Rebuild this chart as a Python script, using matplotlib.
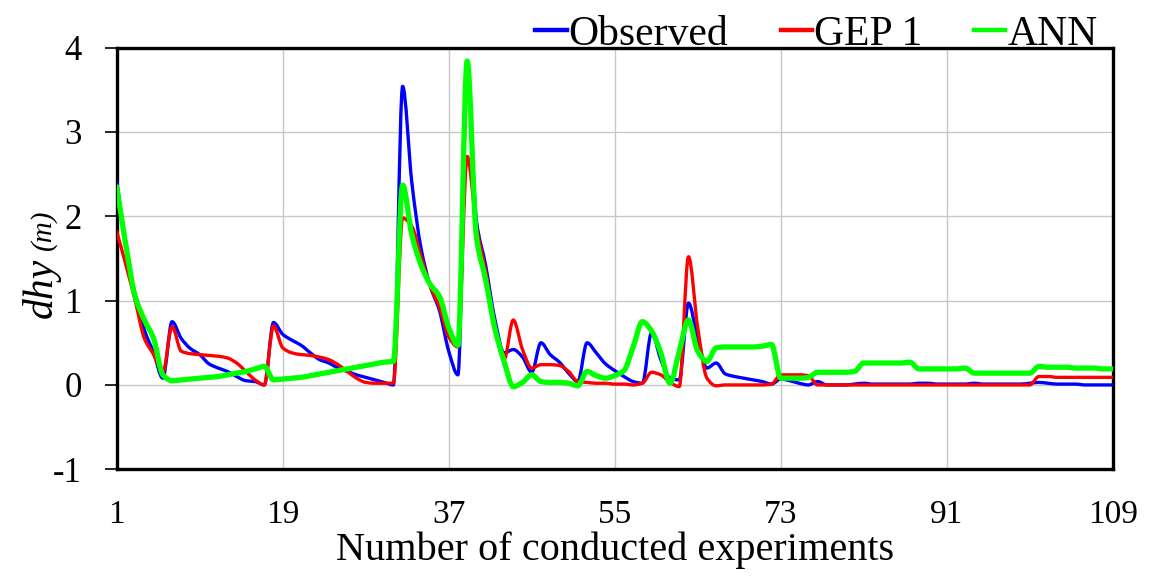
import numpy as np
import matplotlib
matplotlib.use("Agg")
import matplotlib.pyplot as plt
from matplotlib.path import Path
from matplotlib.patches import PathPatch
from matplotlib.lines import Line2D

# ---------------------------------------------------------------------------
#  Data: scour depth per conducted experiment
# ---------------------------------------------------------------------------
experiments = np.arange(1, 110)

observed = [
    2.41, 1.65, 1.05, 0.65, 0.38, 0.08, 0.75, 0.55, 0.43, 0.36,
    0.25, 0.20, 0.16, 0.10, 0.05, 0.04, 0.00, 0.74, 0.60, 0.53,
    0.47, 0.38, 0.30, 0.26, 0.20, 0.16, 0.12, 0.09, 0.06, 0.03,
    0.00, 3.54, 2.40, 1.62, 1.17, 0.88, 0.40, 0.12, 3.70, 1.95,
    1.42, 0.78, 0.38, 0.42, 0.33, 0.15, 0.50, 0.36, 0.27, 0.14,
    0.04, 0.50, 0.38, 0.25, 0.17, 0.10, 0.04, 0.02, 0.62, 0.30,
    0.08, 0.06, 0.97, 0.55, 0.20, 0.26, 0.13, 0.10, 0.08, 0.06,
    0.04, 0.01, 0.07, 0.05, 0.02, 0.00, 0.04, 0.00, 0.00, 0.00,
    0.01, 0.02, 0.01, 0.01, 0.01, 0.01, 0.01, 0.02, 0.02, 0.01,
    0.01, 0.01, 0.01, 0.02, 0.01, 0.01, 0.01, 0.01, 0.01, 0.02,
    0.03, 0.02, 0.01, 0.01, 0.01, 0.00, 0.00, 0.00, 0.00,
]

gep1 = [
    1.82, 1.42, 1.00, 0.55, 0.36, 0.15, 0.69, 0.40, 0.37, 0.36,
    0.35, 0.34, 0.32, 0.26, 0.16, 0.06, 0.00, 0.70, 0.44, 0.38,
    0.36, 0.35, 0.33, 0.30, 0.24, 0.16, 0.08, 0.03, 0.02, 0.02,
    0.02, 1.98, 1.88, 1.52, 1.17, 0.92, 0.57, 0.45, 2.71, 1.88,
    1.35, 0.72, 0.30, 0.77, 0.42, 0.20, 0.24, 0.24, 0.23, 0.16,
    0.04, 0.03, 0.02, 0.02, 0.01, 0.01, 0.00, 0.02, 0.15, 0.12,
    0.03, -0.02, 1.52, 0.68, 0.08, -0.01, 0.00, 0.00, 0.00, 0.00,
    0.00, 0.01, 0.12, 0.12, 0.12, 0.11, 0.00, 0.00, 0.00, 0.00,
    0.00, 0.00, 0.00, 0.00, 0.00, 0.00, 0.00, 0.00, 0.00, 0.00,
    0.00, 0.00, 0.00, 0.00, 0.00, 0.00, 0.00, 0.00, 0.00, 0.00,
    0.10, 0.10, 0.09, 0.09, 0.09, 0.09, 0.09, 0.09, 0.09,
]

ann = [
    2.35, 1.65, 1.05, 0.77, 0.55, 0.12, 0.05, 0.06, 0.07, 0.08,
    0.09, 0.10, 0.12, 0.14, 0.16, 0.19, 0.22, 0.06, 0.07, 0.08,
    0.09, 0.11, 0.13, 0.15, 0.17, 0.19, 0.21, 0.23, 0.25, 0.27,
    0.28, 2.37, 1.78, 1.42, 1.19, 1.05, 0.68, 0.47, 3.84, 1.76,
    1.25, 0.67, 0.28, -0.02, 0.03, 0.12, 0.04, 0.03, 0.03, 0.02,
    -0.01, 0.16, 0.11, 0.08, 0.11, 0.17, 0.45, 0.75, 0.64, 0.38,
    0.02, 0.40, 0.77, 0.40, 0.28, 0.44, 0.45, 0.45, 0.45, 0.45,
    0.46, 0.48, 0.08, 0.08, 0.08, 0.09, 0.15, 0.15, 0.15, 0.15,
    0.16, 0.26, 0.26, 0.26, 0.26, 0.26, 0.27, 0.19, 0.19, 0.19,
    0.19, 0.19, 0.20, 0.14, 0.14, 0.14, 0.14, 0.14, 0.14, 0.14,
    0.22, 0.21, 0.21, 0.21, 0.20, 0.20, 0.20, 0.19, 0.19,
]

x_ticks = [1, 19, 37, 55, 73, 91, 109]
y_ticks = [-1, 0, 1, 2, 3, 4]

# ---------------------------------------------------------------------------
#  Style
# ---------------------------------------------------------------------------
plt.rcParams.update({
    "font.family": "Liberation Serif",
    "axes.unicode_minus": False,
})


def smooth_path(x, y):
    """Smoothed line through the points: cubic Bezier segments whose handles
    use monotone (Fritsch-Carlson) slopes, so the curve never overshoots."""
    x = np.asarray(x, float)
    y = np.asarray(y, float)
    h = np.diff(x)
    delta = np.diff(y) / h
    slope = np.zeros_like(y)
    for k in range(1, len(y) - 1):
        a, b = delta[k - 1], delta[k]
        if a * b > 0:
            slope[k] = 2.0 / (1.0 / a + 1.0 / b)
    slope[0], slope[-1] = delta[0], delta[-1]

    verts = [(x[0], y[0])]
    codes = [Path.MOVETO]
    for k in range(len(x) - 1):
        d = h[k] / 3.0
        verts += [(x[k] + d, y[k] + slope[k] * d),
                  (x[k + 1] - d, y[k + 1] - slope[k + 1] * d),
                  (x[k + 1], y[k + 1])]
        codes += [Path.CURVE4] * 3
    return Path(verts, codes)


fig = plt.figure(figsize=(11.49, 5.77), dpi=100)
ax = fig.add_axes([0.1016, 0.1867, 0.8668, 0.7308])

series = [
    (observed, "#0000FF", 2.4, "Observed"),
    (gep1, "#FF0000", 2.4, "GEP 1"),
    (ann, "#00FF00", 3.8, "ANN"),
]
handles = []
for values, color, lw, name in series:
    patch = PathPatch(smooth_path(experiments, values), fill=False,
                      edgecolor=color, lw=lw, joinstyle="round",
                      capstyle="round", zorder=3)
    ax.add_patch(patch)
    handles.append(Line2D([], [], color=color, lw=3.2, label=name))

ax.set_xlim(1, 109)
ax.set_ylim(-1, 4)
ax.set_xticks(x_ticks)
ax.set_yticks(y_ticks)
ax.grid(True, color="#C8C8C8", lw=1.0)
ax.set_axisbelow(True)

for sp in ax.spines.values():
    sp.set_linewidth(2.4)
    sp.set_color("black")

ax.tick_params(axis="y", direction="out", length=9, width=1.2,
               labelsize=25, pad=16)
ax.tick_params(axis="x", direction="out", length=0, width=1.2,
               labelsize=24, pad=22)

ax.set_xlabel("Number of conducted experiments", fontsize=29, labelpad=1)

# y-axis title: italic symbol with the unit set smaller
fig.text(0.036, 1 - 318 / 577, "dhy", rotation=90, style="italic",
         fontsize=30, ha="center", va="bottom")
fig.text(0.038, 1 - 250 / 577, "(m)", rotation=90, style="italic",
         fontsize=21, ha="center", va="bottom")

ax.legend(handles=handles, loc="lower right", bbox_to_anchor=(0.985, 0.985),
          ncol=3, frameon=False, fontsize=30, handlelength=0.75,
          handletextpad=0.05, columnspacing=1.25, borderpad=0,
          borderaxespad=0)

fig.savefig("out.png", dpi=100)
